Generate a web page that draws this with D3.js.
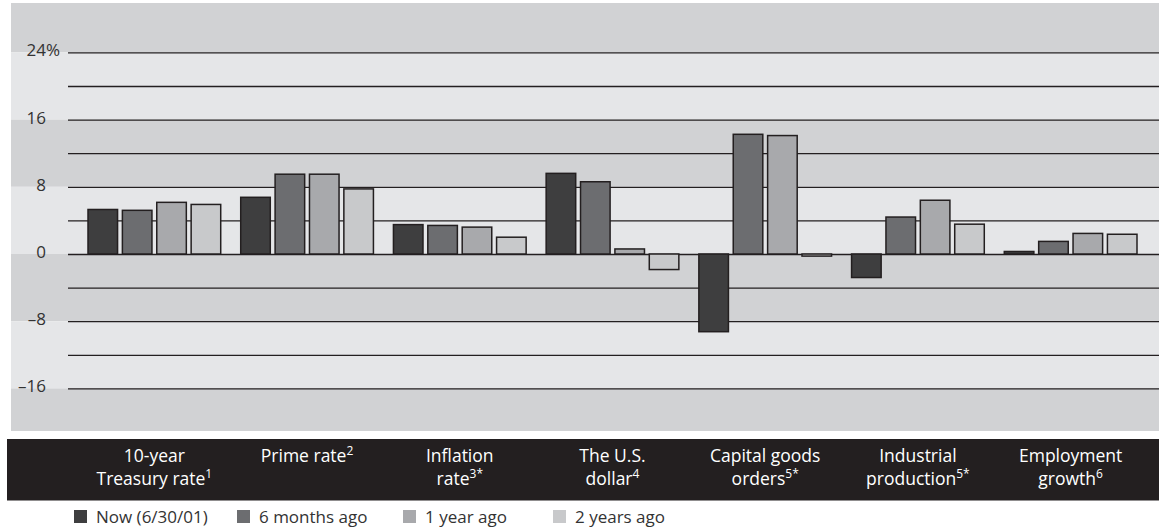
<!DOCTYPE html>
<html><head><meta charset="utf-8">
<script src="https://cdn.jsdelivr.net/npm/d3@7"></script>
<style>
html,body{margin:0;padding:0;background:#fff;}
svg{display:block;font-family:"Open Sans",Lato,sans-serif;}
</style></head><body>
<svg id="chart" width="1159" height="527"></svg>
<script>
const categoryLines = [["10-year","Treasury rate"],["Prime rate"],["Inflation","rate"],["The U.S.","dollar"],["Capital goods","orders"],["Industrial","production"],["Employment","growth"]];
const categoryNotes = ["1","2","3*","4","5*","5*","6"];
const seriesNames = ["Now (6/30/01)","6 months ago","1 year ago","2 years ago"];
const nowValues = [5.3, 6.75, 3.5, 9.6, -9.25, -2.8, 0.3];
const sixMonthsValues = [5.2, 9.5, 3.4, 8.6, 14.25, 4.4, 1.5];
const oneYearValues = [6.15, 9.5, 3.2, 0.6, 14.1, 6.4, 2.45];
const twoYearsValues = [5.9, 7.75, 2.0, -1.85, -0.25, 3.55, 2.35];
const tickValues = [-16,-8,0,8,16,24];
const tickLabels = ["–16","–8","0","8","16","24"];
const gridValues = [-16,-12,-8,-4,0,4,8,12,16,20,24];
const seriesColors = ["#3e3e3f","#6c6d70","#a8a9ac","#c8c9cb"];

const allSeries = [nowValues, sixMonthsValues, oneYearValues, twoYearsValues];
const svg = d3.select("#chart");
const W = 1159;
const FONT = "'Open Sans', Lato, sans-serif";
const panel = {x0: 11, x1: 1159, y0: 3, y1: 431};

const y = d3.scaleLinear().domain([-16, 24]).range([388.4, 52.4]);
const x = d3.scaleBand().domain(d3.range(categoryLines.length)).range([78, 1147]).paddingInner(0.131).paddingOuter(0.0655);
const xs = d3.scaleBand().domain(d3.range(4)).range([0, x.bandwidth()]).paddingInner(0.14);

// background stripes
const bounds = [panel.y0, ...tickValues.slice().reverse().map(v => y(v)), panel.y1];
const stripes = d3.range(bounds.length - 1).map(i => ({a: bounds[i], b: bounds[i+1], dark: i % 2 === 0}));
svg.append("g").selectAll("rect").data(stripes).join("rect")
  .attr("x", panel.x0).attr("width", panel.x1 - panel.x0)
  .attr("y", d => d.a).attr("height", d => d.b - d.a)
  .attr("fill", d => d.dark ? "#d1d2d4" : "#e5e6e8");

// gridlines
const grid = svg.append("g").attr("transform", "translate(68,0)")
  .call(d3.axisRight(y).tickValues(gridValues).tickSize(W - 68).tickFormat(""));
grid.select(".domain").remove();
grid.selectAll(".tick line").attr("stroke", "#231f20").attr("stroke-width", 1.3);

// y labels
const yax = svg.append("g").attr("transform", "translate(46,0)")
  .call(d3.axisLeft(y).tickValues(tickValues).tickSize(0).tickPadding(0)
    .tickFormat((d, i) => tickLabels[i]));
yax.select(".domain").remove();
yax.selectAll("text").attr("font-family", FONT).attr("font-size", 17)
  .attr("font-weight", 400).attr("fill", "#333").attr("dy", 3.5);
svg.append("text").attr("x", 46).attr("y", y(24)).attr("dy", 3.5).attr("font-family", FONT)
  .attr("font-size", 17).attr("font-weight", 400).attr("fill", "#333").text("%");

// bars
const groups = svg.append("g").selectAll("g").data(categoryLines).join("g")
  .attr("transform", (d, i) => `translate(${x(i)},0)`);
groups.selectAll("rect").data((d, i) => allSeries.map((s, k) => ({k, v: s[i]}))).join("rect")
  .attr("x", d => xs(d.k)).attr("width", xs.bandwidth())
  .attr("y", d => y(Math.max(0, d.v))).attr("height", d => Math.abs(y(d.v) - y(0)))
  .attr("fill", d => seriesColors[d.k]).attr("stroke", "#231f20").attr("stroke-width", 1.5);

// category band
svg.append("rect").attr("x", 7).attr("y", 439).attr("width", W - 7).attr("height", 61.5).attr("fill", "#231f20");
const labs = svg.append("g").selectAll("text").data(categoryLines.map((l, i) => ({l, i}))).join("text")
  .attr("x", d => x(d.i) + x.bandwidth() / 2).attr("text-anchor", "middle").attr("font-family", FONT)
  .attr("font-size", 17.5).attr("font-weight", 400).attr("fill", "#fff");
labs.each(function(d) {
  const t = d3.select(this);
  d.l.forEach((line, j) => {
    t.append("tspan").attr("x", x(d.i) + x.bandwidth() / 2).attr("y", 462 + j * 23).text(line);
    if (j === d.l.length - 1) {
      t.append("tspan").attr("font-size", 12).attr("dy", -7).text(categoryNotes[d.i]);
    }
  });
});

// legend
const legendX = [74, 237, 403, 553];
const lg = svg.append("g").selectAll("g").data(seriesNames).join("g")
  .attr("transform", (d, i) => `translate(${legendX[i]},0)`);
lg.append("rect").attr("x", 0).attr("y", 510).attr("width", 13).attr("height", 13).attr("fill", (d, i) => seriesColors[i]);
lg.append("text").attr("x", 22).attr("y", 522.5).attr("font-family", FONT).attr("font-size", 17).attr("font-weight", 400).attr("fill", "#333").text(d => d);
</script>
</body></html>
